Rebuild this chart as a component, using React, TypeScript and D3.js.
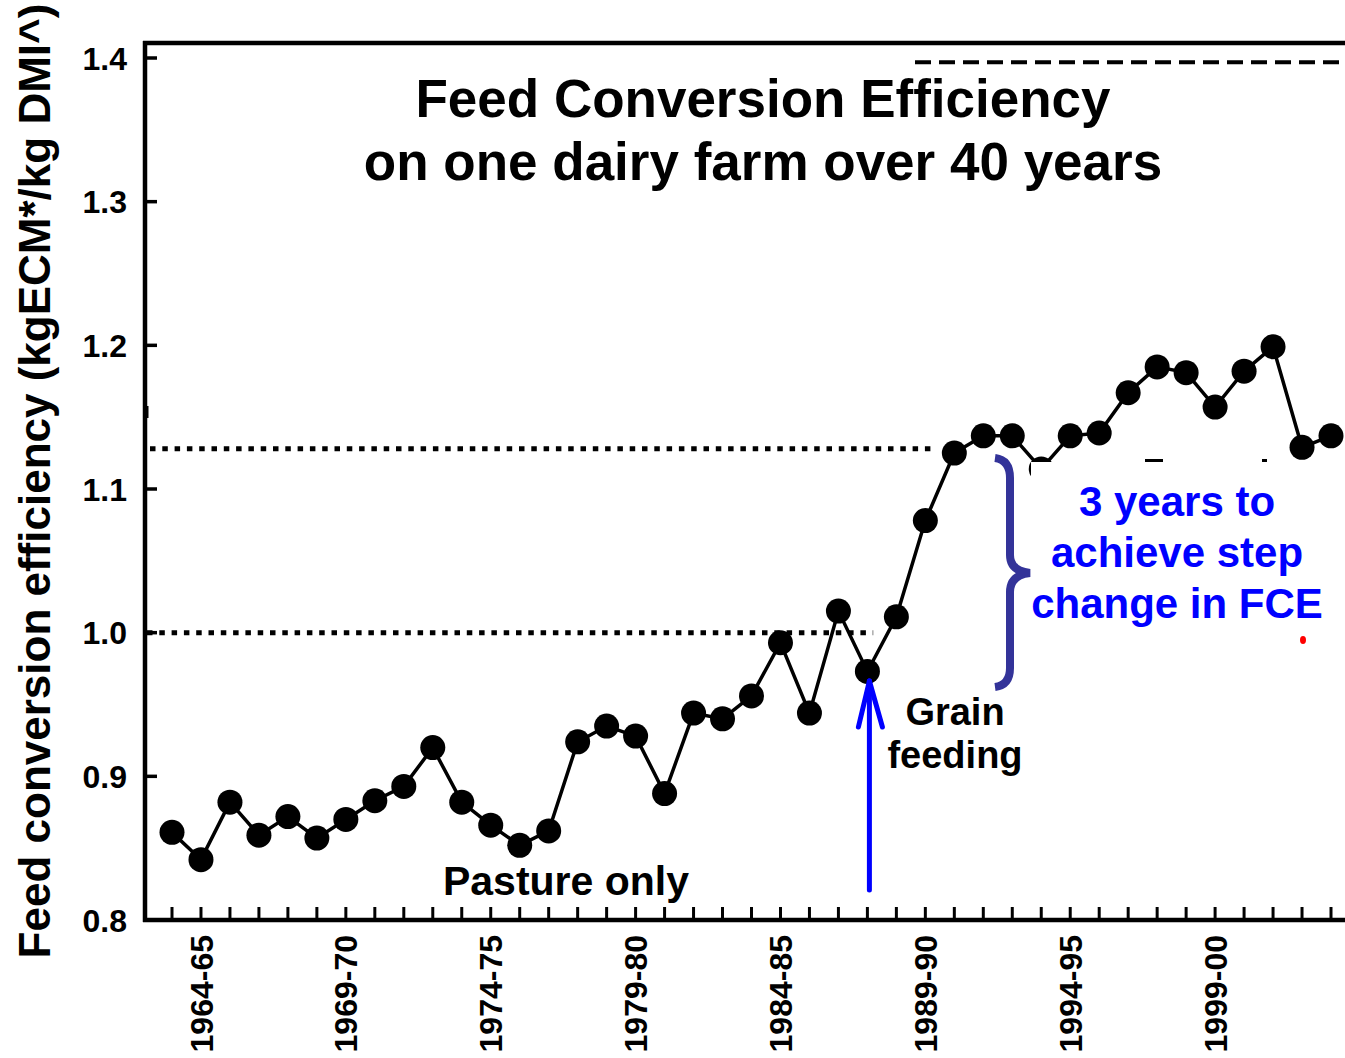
import React from "react";
import * as d3 from "d3";

const seasons = [
  "1963-64","1964-65","1965-66","1966-67","1967-68","1968-69","1969-70","1970-71",
  "1971-72","1972-73","1973-74","1974-75","1975-76","1976-77","1977-78","1978-79",
  "1979-80","1980-81","1981-82","1982-83","1983-84","1984-85","1985-86","1986-87",
  "1987-88","1988-89","1989-90","1990-91","1991-92","1992-93","1993-94","1994-95",
  "1995-96","1996-97","1997-98","1998-99","1999-00","2000-01","2001-02","2002-03","2003-04",
];
const fce = [
  0.861,0.842,0.882,0.859,0.872,0.857,0.870,0.883,0.893,0.920,0.882,0.866,0.852,0.862,
  0.924,0.935,0.928,0.888,0.944,0.940,0.956,0.993,0.944,1.015,0.973,1.011,1.078,1.125,
  1.137,1.137,1.114,1.137,1.139,1.167,1.185,1.181,1.157,1.182,1.199,1.129,1.137,
];
const labelledSeasons = ["1964-65","1969-70","1974-75","1979-80","1984-85","1989-90","1994-95","1999-00"];
const yTicks = [0.8, 0.9, 1.0, 1.1, 1.2, 1.3, 1.4];
const refLevels = [1.0, 1.128];
const topDashLevel = 1.397;
const grainStart = "1987-88";
const titleLines = ["Feed Conversion Efficiency", "on one dairy farm over 40 years"];
const noteLines = ["3 years to", "achieve step", "change in FCE"];
const grainLines = ["Grain", "feeding"];

const FONT = "'Liberation Sans', Arial, Helvetica, sans-serif";

export default function App() {
  const W = 1345, H = 1058;
  const x = d3.scaleLinear().domain([0, seasons.length - 1]).range([172, 1331]);
  const y = d3.scaleLinear().domain([0.8, 1.4]).range([920, 58]);
  const pts = fce.map((v, i) => [x(i), y(v)] as [number, number]);
  const line = d3.line()(pts) || "";
  const gi = seasons.indexOf(grainStart);
  const ax = x(gi) + 2;

  return (
    <svg width={W} height={H} style={{ position: "absolute", left: 0, top: 0, background: "#fff" }}
      fontFamily={FONT} fontWeight="bold">
      <rect x={0} y={0} width={W} height={H} fill="#fff" />
      {/* title */}
      {titleLines.map((t, i) => (
        <text key={t} x={763} y={117 + i * 63} textAnchor="middle" fontSize={53}>{t}</text>
      ))}
      {/* top dashed line */}
      <line x1={915} x2={W} y1={y(topDashLevel)} y2={y(topDashLevel)} stroke="#000" strokeWidth={4} strokeDasharray="16 8" />
      {/* reference dotted lines */}
      <line x1={147} x2={x(24.2)} y1={y(refLevels[0])} y2={y(refLevels[0])} stroke="#000" strokeWidth={5} strokeDasharray="5.5 6.8" />
      <line x1={150} x2={x(26.3)} y1={y(refLevels[1])} y2={y(refLevels[1])} stroke="#000" strokeWidth={5} strokeDasharray="5.5 6.8" />
      {/* axes */}
      <line x1={145} x2={145} y1={41} y2={922} stroke="#000" strokeWidth={4.5} />
      <line x1={143} x2={W} y1={43} y2={43} stroke="#000" strokeWidth={4.5} />
      <line x1={143} x2={W} y1={920} y2={920} stroke="#000" strokeWidth={4.5} />
      <line x1={147} x2={147} y1={406} y2={418} stroke="#000" strokeWidth={3} />
      {yTicks.map((t) => (
        <g key={t}>
          <line x1={145} x2={157} y1={y(t)} y2={y(t)} stroke="#000" strokeWidth={3.5} />
          <text x={127} y={y(t)} dy="0.36em" textAnchor="end" fontSize={32}>{t.toFixed(1)}</text>
        </g>
      ))}
      {seasons.map((s, i) => (
        <line key={s} x1={x(i)} x2={x(i)} y1={920} y2={907} stroke="#000" strokeWidth={3} />
      ))}
      {labelledSeasons.map((s) => {
        const i = seasons.indexOf(s);
        return (
          <text key={s} transform={`translate(${x(i)},935) rotate(-90)`} dy="0.36em" textAnchor="end" fontSize={32}>{s}</text>
        );
      })}
      {/* y title */}
      <text transform="translate(50,481) rotate(-90)" textAnchor="middle" fontSize={44}>
        Feed conversion efficiency (kgECM*/kg DMI^)
      </text>
      {/* data */}
      <path d={line} fill="none" stroke="#000" strokeWidth={3.5} />
      {pts.map((p, i) => (
        <circle key={i} cx={p[0]} cy={p[1]} r={12.5} fill="#000" />
      ))}
      {/* white box covering text */}
      <rect x={1031} y={462} width={314} height={200} fill="#fff" />
      <rect x={1145} y={459} width={18} height={3} fill="#000" />
      <rect x={1262} y={459} width={5} height={3} fill="#000" />
      <ellipse cx={1303} cy={640} rx={3} ry={4} fill="#ff0000" />
      {/* brace */}
      <path d="M995,458 Q1010,460 1010,478 L1010,555 Q1010,571 1030,573 Q1010,575 1010,592 L1010,668 Q1010,685 995,687"
        fill="none" stroke="#333399" strokeWidth={8} strokeLinecap="butt" />
      {noteLines.map((t, i) => (
        <text key={t} x={1177} y={516 + i * 51} textAnchor="middle" fontSize={42} fill="#0000ff">{t}</text>
      ))}
      {/* grain arrow */}
      <g stroke="#0000ff" strokeWidth={5} strokeLinecap="round" fill="none">
        <line x1={ax} x2={ax} y1={890} y2={681} />
        <line x1={ax} x2={ax - 11} y1={681} y2={727} />
        <line x1={ax} x2={ax + 13} y1={681} y2={727} />
      </g>
      {grainLines.map((t, i) => (
        <text key={t} x={955} y={725 + i * 43} textAnchor="middle" fontSize={38}>{t}</text>
      ))}
      <text x={566} y={895} textAnchor="middle" fontSize={41}>Pasture only</text>
    </svg>
  );
}
